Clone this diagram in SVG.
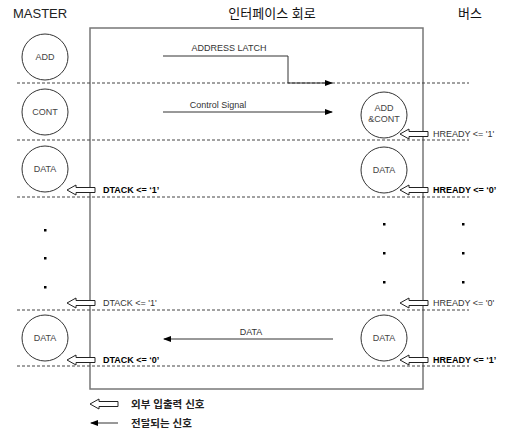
<svg xmlns="http://www.w3.org/2000/svg" width="512" height="432" viewBox="0 0 512 432">
<style>
.t{font-family:"Liberation Sans",Arial,sans-serif;fill:#222}
.title{font-size:13px}
.kr{font-family:"Liberation Sans","Noto Sans CJK KR",sans-serif;font-size:13px;fill:#111}
.leg{font-size:10.5px;font-weight:bold;fill:#222}
.lbl{font-size:9px;fill:#444}
.sig{font-size:9px;fill:#333}
.b{font-weight:bold;fill:#000}
.node circle{fill:#fff;stroke:#333;stroke-width:1}
.dash{stroke:#444;stroke-width:1;stroke-dasharray:3,2;fill:none}
.ln{stroke:#333;stroke-width:1;fill:none}
.dot{fill:#000}
</style>
<defs>
<path id="ha" d="M0,0 L9,-5 L9,-2.5 L28,-2.5 L28,2.5 L9,2.5 L9,5 Z" fill="#fff" stroke="#222" stroke-width="1"/>
<marker id="arr" markerWidth="8" markerHeight="6" refX="7" refY="3" orient="auto" markerUnits="userSpaceOnUse">
<path d="M0,0 L8,3 L0,6 Z" fill="#000"/>
</marker>
</defs>
<rect width="512" height="432" fill="#fff"/>
<!-- titles -->
<text class="t title" x="13" y="18">MASTER</text>
<text class="kr" x="272" y="18" text-anchor="middle">인터페이스 회로</text>
<text class="kr" x="470" y="18" text-anchor="middle">버스</text>
<!-- box -->
<rect x="90" y="28" width="333" height="361" fill="none" stroke="#777" stroke-width="1.5"/>
<!-- dashed row lines -->
<g id="rows">
<line class="dash" x1="17" y1="83" x2="469" y2="83"/>
<line class="dash" x1="17" y1="140" x2="469" y2="140"/>
<line class="dash" x1="17" y1="197" x2="469" y2="197"/>
<line class="dash" x1="17" y1="310" x2="469" y2="310"/>
<line class="dash" x1="17" y1="366" x2="469" y2="366"/>
</g>
<!-- nodes -->
<g id="m-add" class="node"><circle cx="45" cy="57" r="23"/><text class="t lbl" x="45" y="60" text-anchor="middle">ADD</text></g>
<g id="m-cont" class="node"><circle cx="45" cy="112" r="23"/><text class="t lbl" x="45" y="115" text-anchor="middle">CONT</text></g>
<g id="b-addcont" class="node"><circle cx="384" cy="115" r="23"/><text class="t lbl" x="384" y="111" text-anchor="middle">ADD</text><text class="t lbl" x="384" y="122" text-anchor="middle">&amp;CONT</text></g>
<g id="m-data1" class="node"><circle cx="45" cy="169" r="23"/><text class="t lbl" x="45" y="172" text-anchor="middle">DATA</text></g>
<g id="b-data1" class="node"><circle cx="384" cy="170" r="23"/><text class="t lbl" x="384" y="173" text-anchor="middle">DATA</text></g>
<g id="m-data2" class="node"><circle cx="45" cy="338" r="23"/><text class="t lbl" x="45" y="341" text-anchor="middle">DATA</text></g>
<g id="b-data2" class="node"><circle cx="384" cy="338" r="23"/><text class="t lbl" x="384" y="341" text-anchor="middle">DATA</text></g>
<!-- dots -->
<g id="dots">
<rect class="dot" x="44" y="229" width="2.5" height="2.5"/>
<rect class="dot" x="44" y="257" width="2.5" height="2.5"/>
<rect class="dot" x="44" y="286" width="2.5" height="2.5"/>
<rect class="dot" x="383" y="223" width="2.5" height="2.5"/>
<rect class="dot" x="383" y="252" width="2.5" height="2.5"/>
<rect class="dot" x="383" y="281" width="2.5" height="2.5"/>
<rect class="dot" x="462" y="223" width="2.5" height="2.5"/>
<rect class="dot" x="462" y="252" width="2.5" height="2.5"/>
<rect class="dot" x="462" y="281" width="2.5" height="2.5"/>
</g>
<!-- connectors -->
<g id="connectors">
<polyline class="ln" points="163,56 288,56 288,83 332,83" marker-end="url(#arr)"/>
<line class="ln" x1="163" y1="112" x2="332" y2="112" marker-end="url(#arr)"/>
<line class="ln" x1="333" y1="339" x2="164" y2="339" marker-end="url(#arr)"/>
<use href="#ha" x="400" y="134"/>
<use href="#ha" x="67" y="190"/>
<use href="#ha" x="400" y="190"/>
<use href="#ha" x="67" y="303"/>
<use href="#ha" x="400" y="303"/>
<use href="#ha" x="67" y="360"/>
<use href="#ha" x="400" y="360"/>
</g>
<!-- labels -->
<text class="t sig" x="229" y="51" text-anchor="middle">ADDRESS LATCH</text>
<text class="t sig" x="218" y="108" text-anchor="middle">Control Signal</text>
<text class="t sig" x="251" y="335" text-anchor="middle">DATA</text>
<text class="t sig" x="433" y="137">HREADY &lt;= '1'</text>
<text class="t sig b" x="103" y="193">DTACK &lt;= ‘1’</text>
<text class="t sig b" x="433" y="193">HREADY &lt;= ‘0’</text>
<text class="t sig" x="103" y="306">DTACK &lt;= '1'</text>
<text class="t sig" x="433" y="306">HREADY &lt;= '0'</text>
<text class="t sig b" x="103" y="363">DTACK &lt;= ‘0’</text>
<text class="t sig b" x="433" y="363">HREADY &lt;= ‘1’</text>
<!-- legend -->
<g id="legend">
<use href="#ha" x="90" y="404"/>
<line class="ln" x1="118" y1="423" x2="91" y2="423" marker-end="url(#arr)"/>
<text class="kr leg" x="131" y="408">외부 입출력 신호</text>
<text class="kr leg" x="131" y="427">전달되는 신호</text>
</g>
</svg>
